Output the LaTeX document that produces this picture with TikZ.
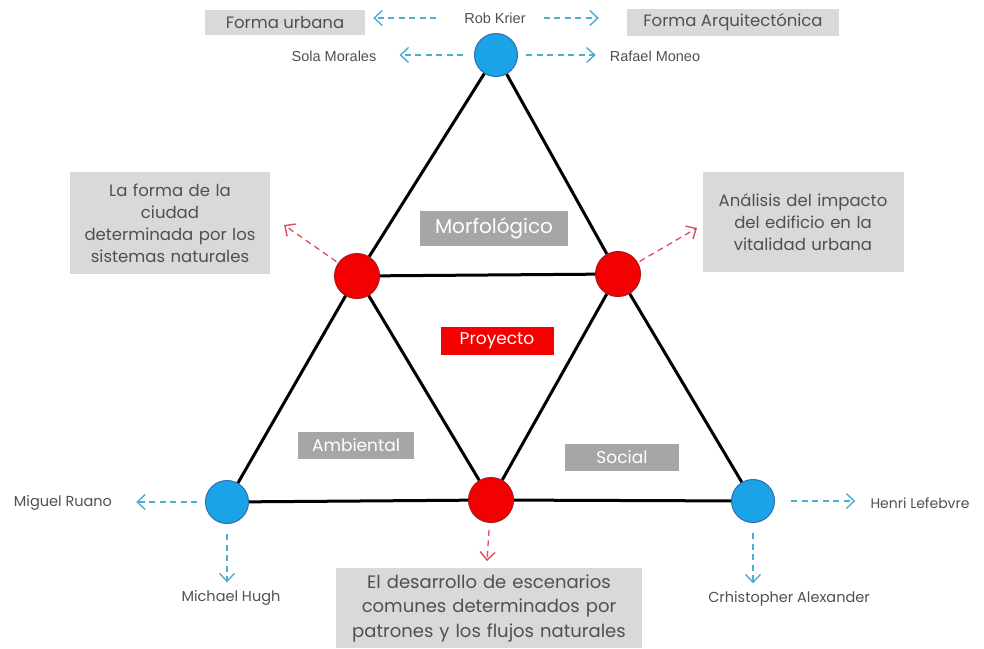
\documentclass[tikz,border=0pt]{standalone}
\usepackage{fontspec}
\setmainfont{Poppins}
\newfontfamily\namefont{Liberation Sans}
\usetikzlibrary{positioning, arrows.meta, calc}

\definecolor{vertexblue}{HTML}{1AA3E6}
\definecolor{vertexblueline}{HTML}{2F6DAE}
\definecolor{vertexred}{HTML}{F40000}
\definecolor{vertexredline}{HTML}{A81818}
\definecolor{boxgray}{HTML}{D9D9D9}
\definecolor{taggray}{HTML}{A6A6A6}
\definecolor{textgray}{HTML}{505050}
\definecolor{linkblue}{HTML}{4AAECF}
\definecolor{linkred}{HTML}{DD4B62}

\begin{document}
\begin{tikzpicture}[
    x=1pt, y=-1pt,
    bluevertex/.style={circle, fill=vertexblue, draw=vertexblueline, line width=1pt, minimum size=43pt, inner sep=0pt},
    redvertex/.style={circle, fill=vertexred, draw=vertexredline, line width=1pt, minimum size=45pt, inner sep=0pt},
    triedge/.style={line width=3pt, black},
    infobox/.style={rectangle, fill=boxgray, text=textgray, align=center, inner sep=0pt, font=\fontsize{16.5}{22}\selectfont},
    areatag/.style={rectangle, fill=taggray, text=white, inner sep=0pt, minimum height=27pt, font=\fontsize{17}{18}\selectfont},
    authorlabel/.style={text=textgray, inner sep=0pt, font=\fontsize{14}{16}\selectfont},
    bluelink/.style={draw=linkblue, line width=1.3pt, dash pattern=on 6pt off 4.5pt, -{Straight Barb[length=8pt, width=15pt, line width=1.4pt]}},
    redlink/.style={draw=linkred, line width=1.3pt, dash pattern=on 6pt off 4.5pt, -{Straight Barb[length=8pt, width=15pt, line width=1.4pt]}}
]
\useasboundingbox (0,0) rectangle (984,648);

% Vertices
\node[bluevertex] (top) at (496,55) {};
\node[bluevertex] (botleft) at (227,502) {};
\node[bluevertex] (botright) at (753,501) {};
\node[redvertex] (midleft) at (357,276) {};
\node[redvertex] (midright) at (618,274) {};
\node[redvertex] (midbot) at (491,500) {};

% Edges
\foreach \a/\b in {top/midleft, midleft/botleft, botleft/midbot, midbot/botright,
                   botright/midright, midright/top, midleft/midright, midleft/midbot, midright/midbot}
    \draw[triedge] (\a) -- (\b);

% Area tags
\node[areatag, minimum width=148pt, minimum height=35pt, font=\fontsize{20}{22}\selectfont] (morfo) at (494,228) {Morfológico};
\node[areatag, fill=vertexred, minimum width=113pt, minimum height=28pt] (proyecto) at (497,341) {Proyecto};
\node[areatag, minimum width=116pt] (ambiental) at (356,445) {Ambiental};
\node[areatag, minimum width=114pt] (social) at (622,457) {Social};

% Top labels
\node[infobox, minimum width=160pt, minimum height=25pt, font=\fontsize{16.5}{18}\selectfont] (urbana) at (285,22) {Forma urbana};
\node[infobox, minimum width=212pt, minimum height=27pt, font=\fontsize{16.5}{18}\selectfont] (arquitec) at (733,22) {Forma Arquitectónica};
\node[authorlabel, font=\namefont\fontsize{14.5}{16}\selectfont] (krier) at (495,18) {Rob Krier};
\node[authorlabel, font=\namefont\fontsize{14.5}{16}\selectfont] (sola) at (334,56) {Sola Morales};
\node[authorlabel, font=\namefont\fontsize{14.5}{16}\selectfont] (moneo) at (655,56) {Rafael Moneo};

\draw[bluelink, shorten <=28pt, shorten >=8pt] (krier.west) -- (urbana.east |- krier.west);
\draw[bluelink, shorten <=18pt, shorten >=28pt] (krier.east) -- (arquitec.west |- krier.east);
\draw[bluelink, shorten <=11pt, shorten >=23pt] (top.west) -- (sola.east |- top.west);
\draw[bluelink, shorten <=8pt, shorten >=14pt] (top.east) -- (moneo.west |- top.east);

% Side boxes
\node[infobox, minimum width=200pt, minimum height=102pt, text width=196pt] (forma) at (170,223)
    {La forma de la\\ciudad\\determinada por los\\sistemas naturales};
\node[infobox, minimum width=201pt, minimum height=100pt, text width=196pt] (impacto) at (803,222)
    {Análisis del impacto\\del edificio en la\\vitalidad urbana};
\node[infobox, minimum width=306pt, minimum height=80pt, text width=302pt, font=\fontsize{18}{24.5}\selectfont] (escenarios) at (489,608)
    {El desarrollo de escenarios\\comunes determinados por\\patrones y los flujos naturales};

\coordinate (formatip) at (284,225);
\coordinate (impactotip) at (697,228);
\coordinate (escenariostip) at (487,561);
\draw[redlink, shorten <=2pt] (midleft) -- (formatip);
\draw[redlink, shorten <=2pt] (midright) -- (impactotip);
\draw[redlink, shorten <=7pt] (midbot) -- (escenariostip);

% Bottom labels
\node[authorlabel, font=\fontsize{14.5}{16}\selectfont] (ruano) at (63,503) {Miguel Ruano};
\node[authorlabel, font=\fontsize{14.5}{16}\selectfont] (hugh) at (231,598) {Michael Hugh};
\node[authorlabel, font=\fontsize{14}{16}\selectfont] (lefebvre) at (920,503) {Henri Lefebvre};
\node[authorlabel, font=\fontsize{14.5}{16}\selectfont] (alexander) at (789,599) {Crhistopher Alexander};

\draw[bluelink, shorten <=8pt, shorten >=24pt] (botleft.west) -- (ruano.east |- botleft.west);
\draw[bluelink, shorten <=10pt, shorten >=8pt] (botleft.south) -- (botleft.south |- hugh.north);
\draw[bluelink, shorten <=16pt, shorten >=15pt] (botright.east) -- (lefebvre.west |- botright.east);
\draw[bluelink, shorten <=10pt, shorten >=8pt] (botright.south) -- (botright.south |- alexander.north);

\end{tikzpicture}
\end{document}
